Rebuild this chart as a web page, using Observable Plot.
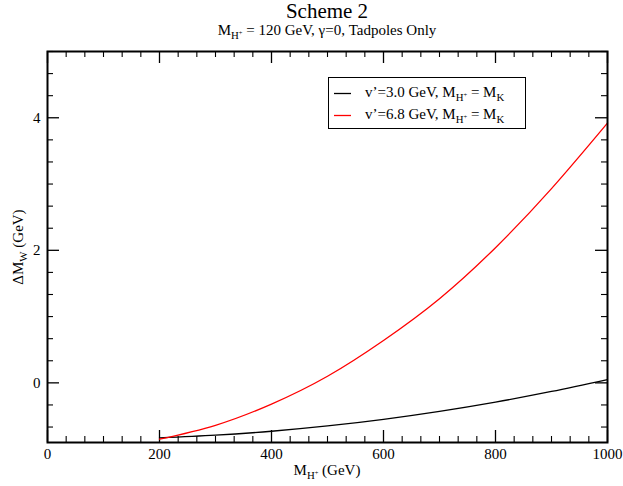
<!DOCTYPE html>
<html>
<head>
<meta charset="utf-8">
<script src="https://cdn.jsdelivr.net/npm/d3@7"></script>
<script src="https://cdn.jsdelivr.net/npm/@observablehq/plot@0.6"></script>
<style>
  html, body { margin: 0; padding: 0; background: #fff; }
  #wrap { position: relative; width: 623px; height: 486px; font-family: "Liberation Serif", "Times New Roman", serif; color: #000; }
  #wrap > svg { position: absolute; left: 0; top: 0; }
  .ov { position: absolute; white-space: nowrap; line-height: 1; }
  .sb { font-size: 72%; position: relative; top: 0.35em; }
  .sp { font-size: 60%; position: relative; top: -0.55em; }
  #legend { position: absolute; border: 1px solid #000; background: #fff; box-sizing: border-box; }
  #legend svg.sw { position: absolute; left: 0; top: 0; }
  .lbl { position: absolute; left: 36px; white-space: nowrap; font-size: 15px; line-height: 1; }
</style>
</head>
<body>
<div id="wrap"></div>
<script>
// ---- data ----
const massH = [200, 300, 400, 500, 600, 700, 800, 900, 1000];
const dMW_v30 = [-0.83, -0.79, -0.73, -0.65, -0.55, -0.43, -0.29, -0.13, 0.05];
const dMW_v68 = [-0.85, -0.64, -0.32, 0.10, 0.64, 1.27, 2.04, 2.93, 3.92];
const seriesNames = ["v’=3.0 GeV", "v’=6.8 GeV"];
const seriesColors = ["#000000", "#ff0000"];
const xTickLabels = [0, 200, 400, 600, 800, 1000];
const yTickLabels = [0, 2, 4];

const rows = [];
massH.forEach((m, i) => rows.push({m, v: dMW_v30[i], s: seriesNames[0]}));
massH.forEach((m, i) => rows.push({m, v: dMW_v68[i], s: seriesNames[1]}));

const W = 623, H = 486;
const mL = 47, mR = 16, mT = 51, mB = 44;
const fw = W - mL - mR, fh = H - mT - mB;
const xMinor = d3.range(0, 1000.001, 200 / 6).filter(v => !xTickLabels.some(t => Math.abs(t - v) < 1e-6));
const yMinor = d3.range(-2 / 3, 5.001, 1 / 3).filter(v => !yTickLabels.some(t => Math.abs(t - v) < 1e-6));
const MAJ = 12, MIN = 6;

const plot = Plot.plot({
  width: W, height: H,
  marginLeft: mL, marginRight: mR, marginTop: mT, marginBottom: mB,
  style: {fontFamily: "Liberation Serif, Times New Roman, serif", fontSize: "15px", color: "#000", background: "#fff"},
  x: {domain: [0, 1000], axis: null},
  y: {domain: [-0.9, 5.0], axis: null},
  color: {domain: seriesNames, range: seriesColors},
  marks: [
    // ticks, inward, on all four sides
    Plot.tickX(xTickLabels, {x: d => d, insetTop: fh - MAJ, stroke: "#000", strokeWidth: 1.3}),
    Plot.tickX(xMinor, {x: d => d, insetTop: fh - MIN, stroke: "#000", strokeWidth: 1.1}),
    Plot.tickX(xTickLabels, {x: d => d, insetBottom: fh - MAJ, stroke: "#000", strokeWidth: 1.3}),
    Plot.tickX(xMinor, {x: d => d, insetBottom: fh - MIN, stroke: "#000", strokeWidth: 1.1}),
    Plot.tickY(yTickLabels, {y: d => d, insetRight: fw - MAJ, stroke: "#000", strokeWidth: 1.3}),
    Plot.tickY(yMinor, {y: d => d, insetRight: fw - MIN, stroke: "#000", strokeWidth: 1.1}),
    Plot.tickY(yTickLabels, {y: d => d, insetLeft: fw - MAJ, stroke: "#000", strokeWidth: 1.3}),
    Plot.tickY(yMinor, {y: d => d, insetLeft: fw - MIN, stroke: "#000", strokeWidth: 1.1}),
    // tick labels
    Plot.axisX({anchor: "bottom", ticks: xTickLabels, tickSize: 0, tickPadding: 6, tickFormat: d => String(d), label: null, fontSize: 15}),
    Plot.axisY({anchor: "left", ticks: yTickLabels, tickSize: 0, tickPadding: 7, tickFormat: d => String(d), label: null, fontSize: 15}),
    // curves
    Plot.line(rows, {x: "m", y: "v", z: "s", stroke: "s", strokeWidth: 1.3, curve: "natural"}),
    Plot.frame({stroke: "#000", strokeWidth: 2})
  ]
});

const wrap = document.getElementById("wrap");
wrap.appendChild(plot);

const xs = plot.scale("x"), ys = plot.scale("y");
const cx = (xs.range[0] + xs.range[1]) / 2;

function ov(html, left, top, extra) {
  const d = document.createElement("div");
  d.className = "ov";
  d.innerHTML = html;
  d.style.left = left + "px";
  d.style.top = top + "px";
  Object.assign(d.style, extra || {});
  wrap.appendChild(d);
  return d;
}
const MH = 'M<span class="sb">H<span class="sp">+</span></span>';

// title & subtitle
ov("Scheme 2", cx, 1, {fontSize: "21px", transform: "translateX(-50%)"});
ov(MH + " = 120 GeV, γ=0, Tadpoles Only", cx, 23, {fontSize: "15px", transform: "translateX(-50%)"});
// axis titles
ov(MH + " (GeV)", cx, 463, {fontSize: "15px", transform: "translateX(-50%)"});
ov('ΔM<span class="sb">W</span> (GeV)', 18, (ys.range[0] + ys.range[1]) / 2, {fontSize: "15px", transform: "translate(-50%,-50%) rotate(-90deg)"});

// legend
const lg = document.createElement("div");
lg.id = "legend";
Object.assign(lg.style, {left: "328px", top: "77px", width: "198px", height: "52px"});
const rowTop = [7, 29];
let swSvg = '<svg class="sw" width="40" height="50">';
seriesNames.forEach((name, i) => {
  const yy = rowTop[i] + 8.5;
  swSvg += `<line x1="5" x2="22" y1="${yy}" y2="${yy}" stroke="${seriesColors[i]}" stroke-width="1.3"></line>`;
});
swSvg += '</svg>';
let html = swSvg;
seriesNames.forEach((name, i) => {
  html += `<span class="lbl" style="top:${rowTop[i]}px">${name}, ${MH} = M<span class="sb">K</span></span>`;
});
lg.innerHTML = html;
wrap.appendChild(lg);
</script>
</body>
</html>
